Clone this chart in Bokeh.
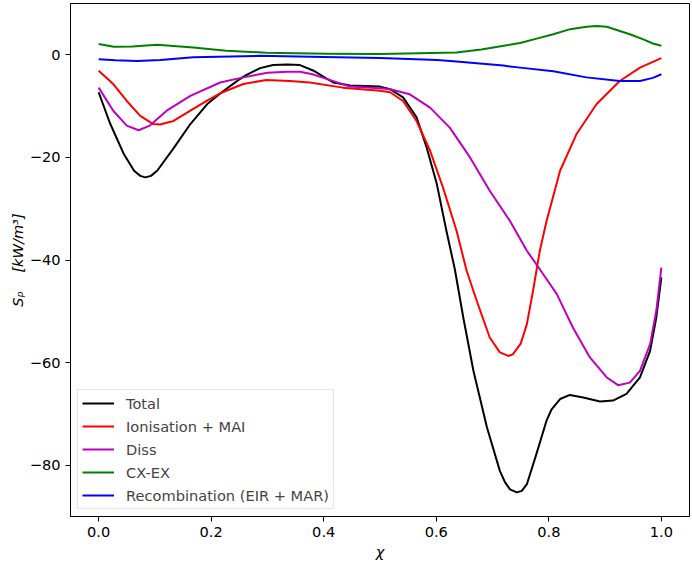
from bokeh.plotting import figure
from bokeh.models import Range1d, FixedTicker, Legend, LegendItem
from bokeh.embed import file_html
from bokeh.resources import INLINE

# --- Total ---
chi_total = [0.0, 0.02, 0.045, 0.063, 0.074, 0.083, 0.093, 0.104, 0.134, 0.163, 0.193, 0.22, 0.25,
             0.263, 0.287, 0.31, 0.335, 0.358, 0.382, 0.4, 0.417, 0.447, 0.5, 0.518, 0.541, 0.565,
             0.583, 0.601, 0.618, 0.633, 0.648, 0.666, 0.69, 0.713, 0.722, 0.731, 0.743, 0.752,
             0.761, 0.778, 0.796, 0.805, 0.82, 0.8375, 0.861, 0.891, 0.914, 0.938, 0.962, 0.98,
             0.991, 1.0]
total = [-7.3, -13.3, -19.4, -22.6, -23.6, -23.9, -23.6, -22.6, -18.1, -13.5, -9.6, -7.2, -4.8,
         -3.9, -2.6, -2.0, -1.9, -2.0, -3.1, -4.3, -5.4, -6.0, -6.2, -6.7, -8.3, -12.2,
         -18.1, -25.2, -34.3, -41.8, -51.2, -61.6, -72.6, -81.1, -83.3, -84.7, -85.3, -85.0,
         -83.7, -77.8, -71.3, -69.1, -67.1, -66.3, -66.8, -67.6, -67.4, -66.1, -62.9, -57.7,
         -51.2, -43.4]

# --- Ionisation + MAI ---
chi_ion = [0.0, 0.026, 0.05, 0.074, 0.097, 0.109, 0.133, 0.163, 0.192, 0.216, 0.257, 0.298, 0.34,
           0.375, 0.434, 0.5, 0.518, 0.541, 0.565, 0.589, 0.612, 0.636, 0.654, 0.672, 0.695,
           0.713, 0.728, 0.736, 0.75, 0.761, 0.772, 0.784, 0.796, 0.82, 0.849, 0.885, 0.926,
           0.962, 1.0]
ionisation = [-3.1, -5.7, -9.0, -11.9, -13.5, -13.6, -12.9, -10.9, -9.0, -7.5, -5.7, -4.9, -5.1,
              -5.4, -6.4, -7.0, -7.3, -9.0, -12.9, -18.7, -25.9, -34.3, -42.1, -48.0, -55.1,
              -58.0, -58.7, -58.4, -56.3, -52.5, -46.0, -38.2, -32.4, -22.6, -15.5, -9.6, -5.1,
              -2.5, -0.65]

# --- Diss ---
chi_diss = [0.0, 0.026, 0.05, 0.071, 0.091, 0.121, 0.163, 0.216, 0.257, 0.3, 0.335, 0.358, 0.38,
            0.405, 0.447, 0.5, 0.518, 0.553, 0.589, 0.624, 0.66, 0.695, 0.731, 0.761, 0.784,
            0.814, 0.843, 0.873, 0.903, 0.923, 0.944, 0.962, 0.98, 0.991, 1.0]
diss = [-6.4, -10.9, -13.8, -14.7, -13.8, -10.9, -8.0, -5.4, -4.4, -3.5, -3.3, -3.3, -3.8,
        -4.7, -6.2, -6.5, -6.7, -7.7, -10.3, -14.2, -20.0, -26.5, -32.4, -38.2, -41.8,
        -46.6, -53.2, -59.0, -62.9, -64.4, -63.9, -61.6, -56.4, -49.9, -41.5]

# --- CX-EX ---
chi_cx = [0.0, 0.027, 0.06, 0.104, 0.168, 0.227, 0.298, 0.405, 0.5, 0.636, 0.68, 0.72, 0.749,
          0.78, 0.808, 0.838, 0.867, 0.885, 0.903, 0.944, 0.968, 0.985, 1.0]
cx_ex = [2.1, 1.56, 1.6, 1.95, 1.4, 0.8, 0.4, 0.2, 0.15, 0.45, 1.05, 1.75, 2.3,
         3.2, 4.0, 5.0, 5.46, 5.6, 5.46, 4.0, 3.0, 2.2, 1.75]

# --- Recombination (EIR + MAR) ---
chi_rec = [0.0, 0.03, 0.068, 0.11, 0.168, 0.286, 0.4, 0.5, 0.602, 0.636, 0.719, 0.749, 0.808,
           0.867, 0.926, 0.962, 0.985, 1.0]
recomb = [-0.85, -1.05, -1.2, -1.0, -0.5, -0.2, -0.45, -0.6, -1.0, -1.3, -2.1, -2.5, -3.2,
          -4.4, -5.1, -5.1, -4.5, -3.8]

series_names = ["Total", "Ionisation + MAI", "Diss", "CX-EX", "Recombination (EIR + MAR)"]
series_x = [chi_total, chi_ion, chi_diss, chi_cx, chi_rec]
series_values = [total, ionisation, diss, cx_ex, recomb]
series_colors = ["#000000", "#ff0000", "#bf00bf", "#008000", "#0000ff"]

x_ticks = [0.0, 0.2, 0.4, 0.6, 0.8, 1.0]
x_tick_labels = ["0.0", "0.2", "0.4", "0.6", "0.8", "1.0"]
y_ticks = [0, -20, -40, -60, -80]
y_tick_labels = ["0", "\u221220", "\u221240", "\u221260", "\u221280"]

FONT = "DejaVu Sans"
FS = "14.6px"

p = figure(width=692, height=562, output_backend="svg", toolbar_location=None,
           x_range=Range1d(-0.05, 1.05), y_range=Range1d(-90, 10),
           min_border_left=70, min_border_right=3, min_border_top=3, min_border_bottom=46)

p.xgrid.visible = False
p.ygrid.visible = False
p.outline_line_color = "black"
p.outline_line_width = 1
p.background_fill_color = "white"
p.border_fill_color = "white"

items = []
for name, xs, vals, col in zip(series_names, series_x, series_values, series_colors):
    r = p.line(xs, vals, line_color=col, line_width=2, line_join="round")
    items.append(LegendItem(label=name, renderers=[r]))

for ax in (p.xaxis[0], p.yaxis[0]):
    ax.axis_line_color = "black"
    ax.major_tick_line_color = "black"
    ax.minor_tick_line_color = None
    ax.major_tick_in = 0
    ax.major_tick_out = 5
    ax.major_label_text_font = FONT
    ax.major_label_text_font_size = FS
    ax.major_label_text_color = "black"
    ax.major_label_standoff = 5
    ax.axis_label_text_font = FONT
    ax.axis_label_text_font_size = FS
    ax.axis_label_text_font_style = "italic"
    ax.axis_label_text_color = "black"

p.xaxis[0].ticker = FixedTicker(ticks=x_ticks)
p.xaxis[0].major_label_overrides = dict(zip(x_ticks, x_tick_labels))
p.yaxis[0].ticker = FixedTicker(ticks=y_ticks)
p.yaxis[0].major_label_overrides = dict(zip(y_ticks, y_tick_labels))
p.xaxis[0].axis_label = "\u03c7"
p.xaxis[0].axis_label_standoff = 3
p.yaxis[0].axis_label = "S\u209a\u00a0\u00a0\u00a0\u00a0[kW/m\u00b3]"
p.yaxis[0].axis_label_standoff = 1

legend = Legend(items=items, location="bottom_left", margin=7, padding=4,
                label_text_font=FONT, label_text_font_size=FS,
                glyph_width=32, glyph_height=18, label_height=18, spacing=5,
                label_standoff=12, border_line_color="#cccccc", border_line_width=1,
                background_fill_alpha=0.8)
p.add_layout(legend)

open("out.html", "w").write(file_html(p, INLINE))
